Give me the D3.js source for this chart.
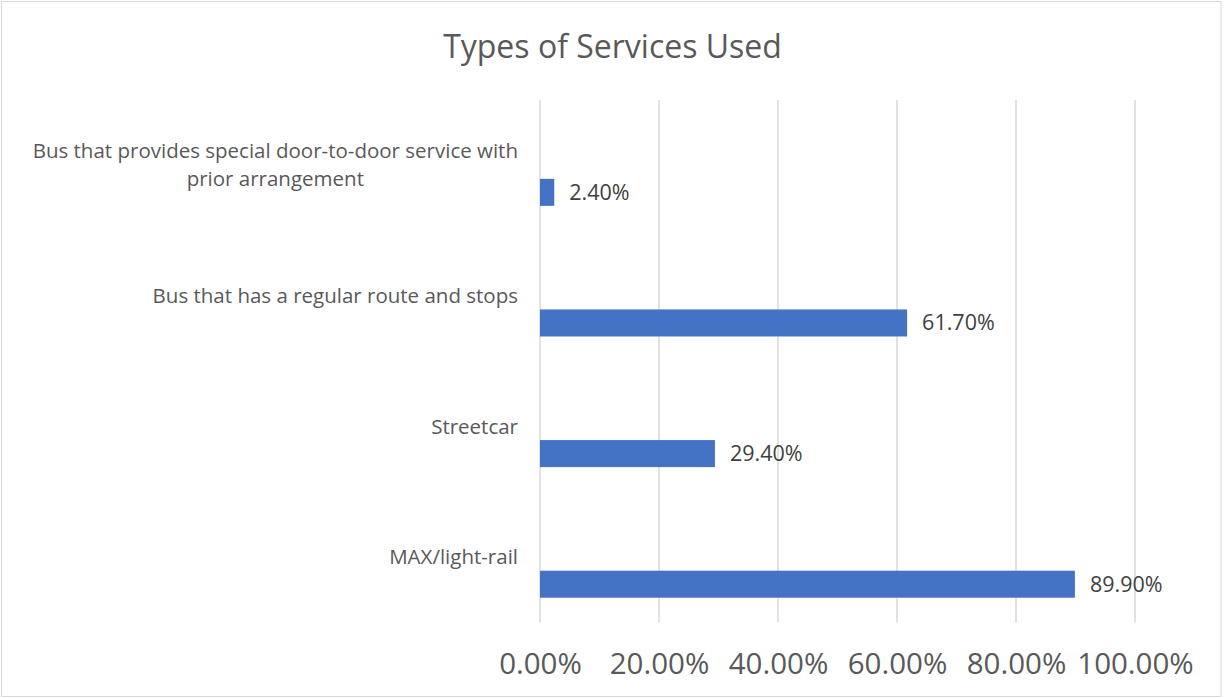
<!DOCTYPE html>
<html>
<head>
<meta charset="utf-8">
<script src="https://cdn.jsdelivr.net/npm/d3@7"></script>
<style>
  html, body { margin: 0; padding: 0; background: #fff; }
  svg { display: block; font-family: "Open Sans", "Noto Sans", sans-serif; }
</style>
</head>
<body>
<svg id="chart" width="1225" height="698"></svg>
<script>
// Survey results: share of respondents using each service type
const categories = [
  "Bus that provides special door-to-door service with prior arrangement",
  "Bus that has a regular route and stops",
  "Streetcar",
  "MAX/light-rail"
];
const values = [0.024, 0.617, 0.294, 0.899];
const valueLabels = ["2.40%", "61.70%", "29.40%", "89.90%"];
const tickValues = [0, 0.2, 0.4, 0.6, 0.8, 1.0];
const tickLabels = ["0.00%", "20.00%", "40.00%", "60.00%", "80.00%", "100.00%"];
const title = "Types of Services Used";

const W = 1225, H = 698;
const plot = { left: 540, right: 1135, top: 100, bottom: 622.5 };
const textColor = "#595959";
const gridColor = "#d9d9d9";
const barColor = "#4472C4";

const svg = d3.select("#chart");

svg.append("rect").attr("width", W).attr("height", H).attr("fill", "#fff");
svg.append("rect")
  .attr("x", 1.5).attr("y", 1.5)
  .attr("width", 1219.5).attr("height", 695)
  .attr("fill", "none").attr("stroke", gridColor).attr("stroke-width", 1);

const x = d3.scaleLinear().domain([0, 1]).range([plot.left, plot.right]);
const y = d3.scaleBand().domain(categories).range([plot.top, plot.bottom]).padding(0);
// three series slots per category; only the last slot carries data
const slot = d3.scaleBand().domain([0, 1, 2]).range([0, y.bandwidth()])
  .paddingInner(0).paddingOuter(0.917);

// vertical gridlines
svg.append("g").selectAll("line").data(tickValues).join("line")
  .attr("x1", d => x(d)).attr("x2", d => x(d))
  .attr("y1", plot.top).attr("y2", plot.bottom)
  .attr("stroke", gridColor).attr("stroke-width", 1.5);

// x axis tick labels
const xAxis = d3.axisBottom(x).tickValues(tickValues)
  .tickFormat((d, i) => tickLabels[i]).tickSize(0).tickPadding(0);
const gx = svg.append("g").attr("transform", `translate(0,${plot.bottom})`).call(xAxis);
gx.select(".domain").remove();
gx.selectAll("text")
  .attr("y", 41).attr("dy", "0.35em")
  .attr("fill", textColor)
  .style("font-size", "29.5px")
  .style("font-family", "'Open Sans', sans-serif");

// bars
svg.append("g").selectAll("rect").data(categories).join("rect")
  .attr("x", x(0))
  .attr("y", d => y(d) + slot(2))
  .attr("width", (d, i) => x(values[i]) - x(0))
  .attr("height", slot.bandwidth())
  .attr("fill", barColor);

// value labels
svg.append("g").selectAll("text").data(categories).join("text")
  .attr("x", (d, i) => x(values[i]) + 15)
  .attr("y", d => y(d) + slot(2) + slot.bandwidth() / 2)
  .attr("dy", "0.35em")
  .attr("fill", "#404040")
  .style("font-size", "21.5px")
  .text((d, i) => valueLabels[i]);

// category labels, wrapped and right-aligned against the plot
const labelRight = 518, wrapWidth = 505, lineH = 28;
const gl = svg.append("g").style("font-size", "20.5px").attr("fill", textColor);
categories.forEach(cat => {
  const probe = gl.append("text");
  const words = cat.split(" ");
  const lines = [];
  let cur = [];
  words.forEach(w => {
    const test = cur.concat(w).join(" ");
    probe.text(test);
    if (probe.node().getComputedTextLength() > wrapWidth && cur.length) {
      lines.push(cur.join(" "));
      cur = [w];
    } else cur.push(w);
  });
  lines.push(cur.join(" "));
  const widths = lines.map(l => { probe.text(l); return probe.node().getComputedTextLength(); });
  probe.remove();
  const maxW = d3.max(widths);
  const cx = labelRight - maxW / 2;
  const cy = y(cat) + y.bandwidth() / 2;
  const t = gl.append("text").attr("text-anchor", "middle");
  lines.forEach((l, i) => {
    t.append("tspan")
      .attr("x", cx)
      .attr("y", cy + (i - (lines.length - 1) / 2) * lineH)
      .attr("dy", "0.35em")
      .text(l);
  });
});

// title
svg.append("text")
  .attr("x", W / 2).attr("y", 47).attr("dy", "0.35em")
  .attr("text-anchor", "middle")
  .attr("fill", textColor)
  .style("font-size", "32px")
  .text(title);
</script>
</body>
</html>
